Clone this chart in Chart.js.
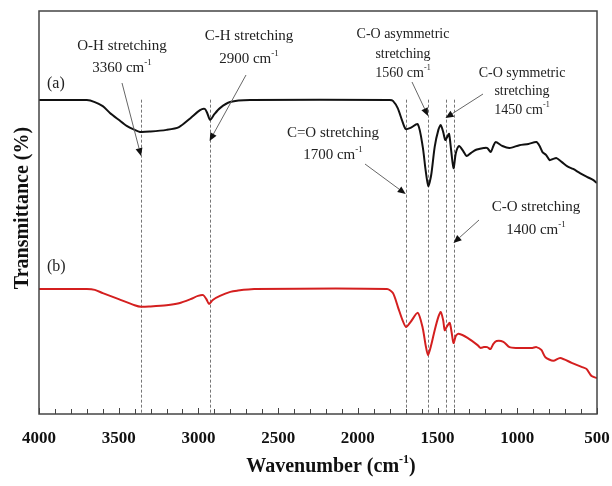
<!DOCTYPE html>
<html>
<head>
<meta charset="utf-8">
<script src="https://cdn.jsdelivr.net/npm/chart.js@4.4.1/dist/chart.umd.min.js"></script>
<style>
  body { margin: 0; background: #fff; }
  #wrap { width: 612px; height: 486px; }
</style>
</head>
<body>
<div id="wrap"><canvas id="ftir" width="612" height="486"></canvas></div>
<script>
// spectrum (a) - black
const wnA = [4000, 3700, 3650, 3600, 3555, 3500, 3450, 3400, 3367, 3300, 3200, 3122, 3050, 2990, 2960, 2945, 2927, 2900, 2865, 2802, 2676,
  1800, 1780, 1750, 1724, 1700, 1670, 1624, 1593, 1575, 1558, 1540, 1518, 1495, 1480, 1465, 1452, 1440, 1428, 1415, 1400, 1385, 1365,
  1340, 1318, 1290, 1262, 1234, 1210, 1188, 1167, 1150, 1136, 1093, 1049, 987, 930, 880, 860, 842, 820, 797, 775, 754, 720, 688, 650,
  607, 560, 525, 500];
const trA = [77.9, 77.9, 77.4, 76.4, 74.7, 73.0, 71.5, 70.5, 70.0, 70.1, 70.5, 71.2, 73.4, 75.4, 75.7, 74.7, 73.0, 74.4, 75.9, 77.4, 77.9,
  77.9, 77.7, 75.9, 73.0, 70.7, 71.0, 71.9, 66.3, 60.5, 56.6, 59.3, 66.3, 70.5, 71.7, 70.0, 68.0, 68.7, 69.5, 65.5, 61.0, 64.8, 66.5,
  65.3, 64.0, 64.8, 65.5, 65.8, 66.0, 66.0, 65.0, 66.5, 67.5, 66.5, 66.0, 66.7, 67.0, 67.5, 66.5, 65.0, 64.3, 63.0, 63.3, 63.5, 62.5, 61.5, 60.8,
  59.8, 58.8, 58.1, 57.3];

// spectrum (b) - red
const wnB = [4000, 3700, 3650, 3600, 3500, 3400, 3360, 3300, 3200, 3122, 3050, 3003, 2970, 2950, 2933, 2910, 2865, 2800, 2758, 2650,
  1817, 1780, 1749, 1720, 1698, 1670, 1624, 1593, 1575, 1560, 1540, 1518, 1495, 1480, 1465, 1455, 1440, 1424, 1412, 1400, 1385, 1368,
  1312, 1249, 1231, 1210, 1188, 1168, 1150, 1130, 1087, 1049, 1005, 905, 880, 849, 824, 774, 731, 659, 597, 566, 534, 500];
const trB = [31.0, 31.0, 30.8, 30.0, 28.5, 27.0, 26.6, 26.7, 27.0, 27.5, 28.5, 29.3, 29.5, 28.5, 27.3, 28.3, 29.3, 30.3, 30.6, 31.0,
  31.0, 30.0, 26.6, 23.3, 21.6, 22.8, 25.1, 21.3, 17.1, 14.6, 17.1, 20.8, 24.1, 25.3, 23.3, 20.8, 21.8, 22.6, 20.3, 17.6, 19.4, 19.9,
  18.9, 17.1, 16.4, 16.6, 16.6, 16.1, 17.4, 18.1, 17.9, 16.6, 16.4, 16.4, 16.6, 15.9, 14.1, 13.2, 13.9, 12.7, 11.7, 11.2, 9.4, 8.9];

const xTicks = [4000, 3500, 3000, 2500, 2000, 1500, 1000, 500];
const peakLines = [3360, 2930, 1700, 1560, 1450, 1400];

const serif = '"Liberation Serif", "Times New Roman", serif';

// annotation text blocks: lines, centre x, centre y of each line, font size
const notes = [
  { lines: ['O-H stretching', ['3360 cm', '-1']], x: 122, ys: [46, 68], size: 15 },
  { lines: ['C-H stretching', ['2900 cm', '-1']], x: 249, ys: [36, 59], size: 15 },
  { lines: ['C=O stretching', ['1700 cm', '-1']], x: 333, ys: [133, 155], size: 15 },
  { lines: ['C-O asymmetric', 'stretching', ['1560 cm', '-1']], x: 403, ys: [34, 54, 73], size: 14 },
  { lines: ['C-O symmetric', 'stretching', ['1450 cm', '-1']], x: 522, ys: [73, 91, 110], size: 14 },
  { lines: ['C-O stretching', ['1400 cm', '-1']], x: 536, ys: [207, 230], size: 15 }
];
// arrows: start point, tip at a peak line
const arrows = [
  { from: [122, 83], peak: 3360, tipY: 156 },
  { from: [246, 75], peak: 2930, tipY: 141 },
  { from: [365, 164], peak: 1700, tipY: 194 },
  { from: [412, 82], peak: 1560, tipY: 116 },
  { from: [483, 94], peak: 1450, tipY: 118 },
  { from: [479, 220], peak: 1400, tipY: 243 }
];

function drawSupText(ctx, parts, cx, cy, size, bold) {
  const w = bold ? 'bold ' : '';
  const main = w + size + 'px ' + serif;
  const small = w + Math.round(size * 0.6) + 'px ' + serif;
  ctx.font = main;
  const w1 = ctx.measureText(parts[0]).width;
  ctx.font = small;
  const w2 = parts[1] ? ctx.measureText(parts[1]).width : 0;
  ctx.font = main;
  const w3 = parts[2] ? ctx.measureText(parts[2]).width : 0;
  let x = cx - (w1 + w2 + w3) / 2;
  ctx.textAlign = 'left';
  ctx.textBaseline = 'middle';
  ctx.font = main;
  ctx.fillText(parts[0], x, cy);
  x += w1;
  if (parts[1]) {
    ctx.font = small;
    ctx.fillText(parts[1], x, cy - size * 0.35);
    x += w2;
  }
  if (parts[2]) {
    ctx.font = main;
    ctx.fillText(parts[2], x, cy);
  }
}

const overlay = {
  id: 'overlay',
  beforeDatasetsDraw(chart) {
    const ctx = chart.ctx;
    const xs = chart.scales.x, ys = chart.scales.y;
    ctx.save();
    ctx.strokeStyle = '#777';
    ctx.lineWidth = 1;
    ctx.setLineDash([3, 2]);
    peakLines.forEach(p => {
      const px = Math.round(xs.getPixelForValue(p)) + 0.5;
      ctx.beginPath();
      ctx.moveTo(px, ys.getPixelForValue(78));
      ctx.lineTo(px, chart.chartArea.bottom);
      ctx.stroke();
    });
    ctx.restore();
  },
  afterDraw(chart) {
    const ctx = chart.ctx;
    const a = chart.chartArea;
    const xs = chart.scales.x;
    ctx.save();
    // frame
    ctx.strokeStyle = '#444';
    ctx.lineWidth = 1.5;
    ctx.strokeRect(a.left, a.top, a.right - a.left, a.bottom - a.top);
    // inner tick marks
    ctx.lineWidth = 1;
    for (let v = 500; v <= 4000; v += 100) {
      const px = Math.round(xs.getPixelForValue(v)) + 0.5;
      ctx.beginPath();
      ctx.moveTo(px, a.bottom);
      ctx.lineTo(px, a.bottom - (v % 500 === 0 ? 6 : 5));
      ctx.stroke();
    }
    ctx.fillStyle = '#111';
    // axis titles
    drawSupText(ctx, ['Wavenumber (cm', '-1', ')'], 331, 467, 20, true);
    ctx.save();
    ctx.translate(23, 208);
    ctx.rotate(-Math.PI / 2);
    ctx.font = 'bold 20px ' + serif;
    ctx.textAlign = 'center';
    ctx.textBaseline = 'middle';
    ctx.fillText('Transmittance (%)', 0, 0);
    ctx.restore();
    // series labels
    ctx.font = '16px ' + serif;
    ctx.textAlign = 'left';
    ctx.textBaseline = 'middle';
    ctx.fillStyle = '#222';
    ctx.fillText('(a)', 47, 84);
    ctx.fillText('(b)', 47, 267);
    // notes
    notes.forEach(n => {
      n.lines.forEach((ln, i) => {
        const parts = Array.isArray(ln) ? ln : [ln];
        drawSupText(ctx, parts, n.x, n.ys[i], n.size, false);
      });
    });
    // arrows
    arrows.forEach(ar => {
      const tx = xs.getPixelForValue(ar.peak), ty = ar.tipY;
      const [fx, fy] = ar.from;
      const ang = Math.atan2(ty - fy, tx - fx);
      const hl = 8, hw = 3.5;
      const bx = tx - hl * Math.cos(ang), by = ty - hl * Math.sin(ang);
      ctx.strokeStyle = '#666';
      ctx.lineWidth = 1;
      ctx.beginPath();
      ctx.moveTo(fx, fy);
      ctx.lineTo(bx, by);
      ctx.stroke();
      ctx.fillStyle = '#111';
      ctx.beginPath();
      ctx.moveTo(tx, ty);
      ctx.lineTo(bx + hw * Math.sin(ang), by - hw * Math.cos(ang));
      ctx.lineTo(bx - hw * Math.sin(ang), by + hw * Math.cos(ang));
      ctx.closePath();
      ctx.fill();
    });
    ctx.restore();
  }
};

const ctx = document.getElementById('ftir').getContext('2d');
new Chart(ctx, {
  type: 'line',
  data: {
    datasets: [
      {
        label: '(a)',
        data: wnA.map((w, i) => ({ x: w, y: trA[i] })),
        borderColor: '#111',
        borderWidth: 2,
        pointRadius: 0,
        tension: 0.25,
        fill: false
      },
      {
        label: '(b)',
        data: wnB.map((w, i) => ({ x: w, y: trB[i] })),
        borderColor: '#d41f1f',
        borderWidth: 2,
        pointRadius: 0,
        tension: 0.25,
        fill: false
      }
    ]
  },
  options: {
    responsive: false,
    animation: false,
    devicePixelRatio: 1,
    layout: { padding: { left: 39, top: 11, right: 15, bottom: 0 } },
    plugins: {
      legend: { display: false },
      tooltip: { enabled: false }
    },
    scales: {
      x: {
        type: 'linear',
        reverse: true,
        min: 500,
        max: 4000,
        border: { display: false },
        grid: { display: false, drawTicks: false },
        afterFit(scale) {
          scale.height = 72;
          scale.paddingLeft = 0;
          scale.paddingRight = 0;
        },
        ticks: {
          stepSize: 500,
          autoSkip: false,
          maxRotation: 0,
          padding: 14,
          color: '#111',
          font: { family: serif, size: 17, weight: 'bold' },
          callback: v => xTicks.includes(v) ? String(v) : ''
        }
      },
      y: {
        display: false,
        min: 0,
        max: 100
      }
    }
  },
  plugins: [overlay]
});
</script>
</body>
</html>
